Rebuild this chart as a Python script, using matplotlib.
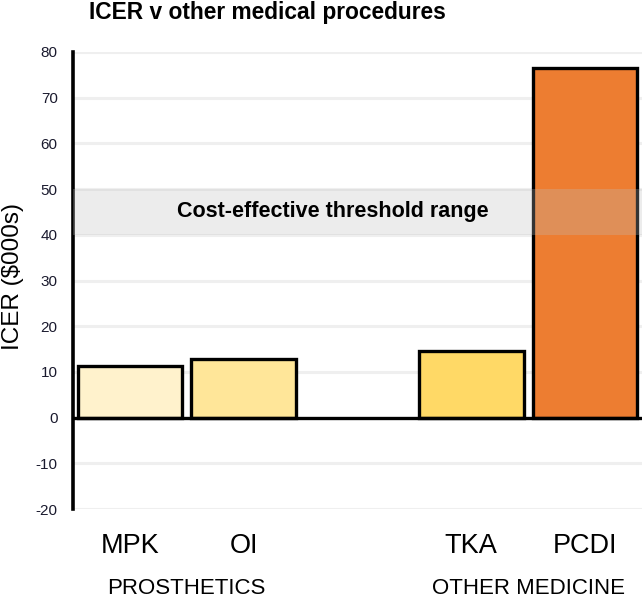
import matplotlib.pyplot as plt
from matplotlib.transforms import blended_transform_factory

plt.rcParams['font.family'] = ['Liberation Sans', 'DejaVu Sans']

# Data
procedures = ["MPK", "OI", "TKA", "PCDI"]
slots = [0, 1, 3, 4]
icer = [11.4, 12.9, 14.6, 76.5]
bar_colors = ["#FFF2CC", "#FFE699", "#FFD966", "#ED7D31"]
groups = ["PROSTHETICS", "OTHER MEDICINE"]
group_slots = [0.5, 3.5]
threshold = (40, 50)
y_ticks = list(range(-20, 81, 10))


def main():
    fig = plt.figure(figsize=(6.42, 5.97), dpi=100)
    ax = fig.add_axes([0.1137, 0.1474, 0.8863, 0.7655])

    # gridlines
    for t in y_ticks:
        if t != 0:
            ax.axhline(t, color="#EFEFEF", lw=2.2, zorder=0)

    ax.bar(slots, icer, width=0.92, color=bar_colors,
           edgecolor="black", linewidth=2.4, zorder=2)
    ax.axhline(0, color="black", lw=2.4, zorder=3)

    # threshold band drawn over bars
    ax.axhspan(threshold[0], threshold[1], color="#BEBEBE", alpha=0.28,
               lw=0, zorder=4)
    ax.text(1.78, 45, "Cost-effective threshold range", ha="center",
            va="center", fontsize=15.5, fontweight="bold", zorder=5)

    ax.set_xlim(-0.5, 4.5)
    ax.set_ylim(-20, 80)
    ax.set_yticks(y_ticks)
    ax.set_yticklabels([str(t) for t in y_ticks])
    ax.tick_params(axis="y", length=0, pad=11, labelsize=11, labelcolor="#1a1a2e")
    ax.set_xticks(slots)
    ax.set_xticklabels(procedures, fontsize=19.5)
    ax.tick_params(axis="x", length=0, pad=17)

    for s in ["top", "right", "bottom"]:
        ax.spines[s].set_visible(False)
    ax.spines["left"].set_linewidth(2.6)

    fig.text(13 / 642, 1 - 277 / 597, "ICER ($000s)", rotation=90,
             ha="center", va="center", fontsize=17.5)

    trans = blended_transform_factory(ax.transData, fig.transFigure)
    for g, x in zip(groups, group_slots):
        ax.text(x, 1 - 588 / 597, g, transform=trans, ha="center",
                va="center", fontsize=16)

    fig.text(267 / 642, 1 - 12 / 597, "ICER v other medical procedures",
             ha="center", va="center", fontsize=16.4, fontweight="bold")

    fig.savefig("out.png", dpi=100)


if __name__ == "__main__":
    main()
